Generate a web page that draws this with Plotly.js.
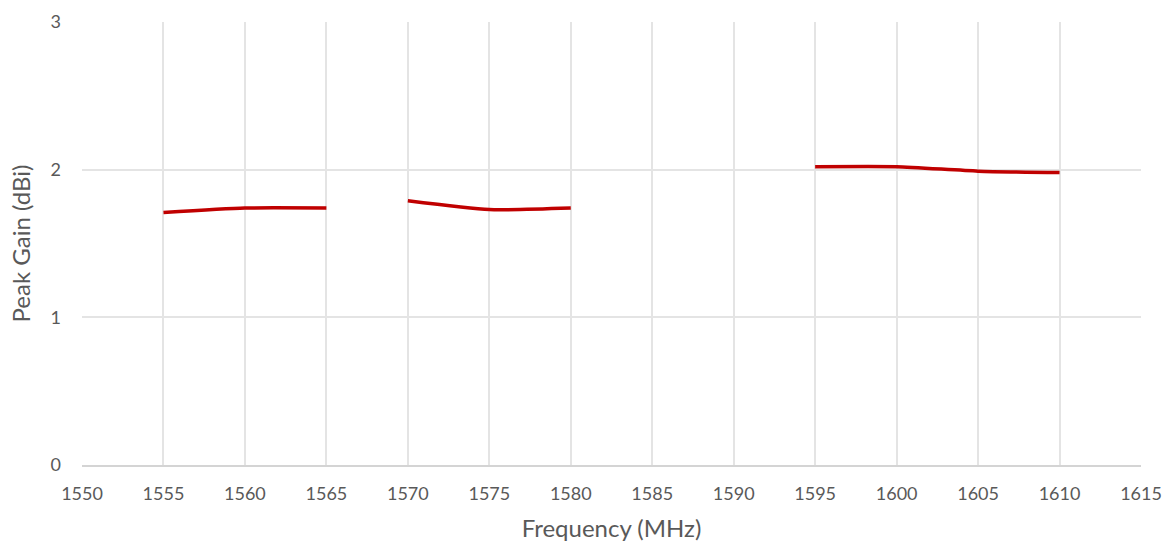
<!DOCTYPE html>
<html>
<head>
<meta charset="utf-8">
<script src="https://cdn.plot.ly/plotly-3.0.1.min.js"></script>
<style>html,body{margin:0;padding:0;background:#fff}#chart{width:1168px;height:546px}</style>
</head>
<body>
<div id="chart"></div>
<script>
const frequency = [1555, 1560, 1565, 1567.5, 1570, 1575, 1580, 1587.5, 1595, 1600, 1605, 1610];
const peakGain  = [1.71, 1.74, 1.74, null, 1.79, 1.73, 1.74, null, 2.02, 2.02, 1.99, 1.98];
const xTicks = [1550,1555,1560,1565,1570,1575,1580,1585,1590,1595,1600,1605,1610,1615];
const yTicks = [0,1,2,3];

const font = "Lato, 'Open Sans', 'DejaVu Sans', sans-serif";
Plotly.newPlot('chart', [{
  x: frequency, y: peakGain, type: 'scatter', mode: 'lines',
  connectgaps: false,
  line: {color: '#c00000', width: 3.5, shape: 'spline', smoothing: 0.6},
  hoverinfo: 'x+y'
}], {
  width: 1168, height: 546,
  margin: {l: 82, r: 27, t: 22, b: 81},
  paper_bgcolor: '#fff', plot_bgcolor: '#fff',
  showlegend: false,
  font: {family: font, color: '#595959', size: 18},
  xaxis: {
    range: [1550, 1615], tickvals: xTicks, ticktext: xTicks.map(String),
    showgrid: true, gridcolor: '#e4e4e4', gridwidth: 2,
    showline: true, linecolor: '#d4d4d4', linewidth: 2,
    zeroline: false, ticks: '', ticklabelstandoff: 11,
    tickfont: {size: 18, color: '#595959'},
    title: {text: 'Frequency (MHz)', font: {size: 24, color: '#595959'}, standoff: 18}
  },
  yaxis: {
    range: [0, 3], tickvals: yTicks, ticktext: yTicks.map(String),
    showgrid: true, gridcolor: '#e4e4e4', gridwidth: 2,
    showline: false, zeroline: false, ticks: '', ticklabelstandoff: 20,
    tickfont: {size: 18, color: '#595959'},
    title: {text: 'Peak Gain (dBi)', font: {size: 24, color: '#595959'}, standoff: 13}
  }
}, {displayModeBar: false, staticPlot: true});
</script>
</body>
</html>
